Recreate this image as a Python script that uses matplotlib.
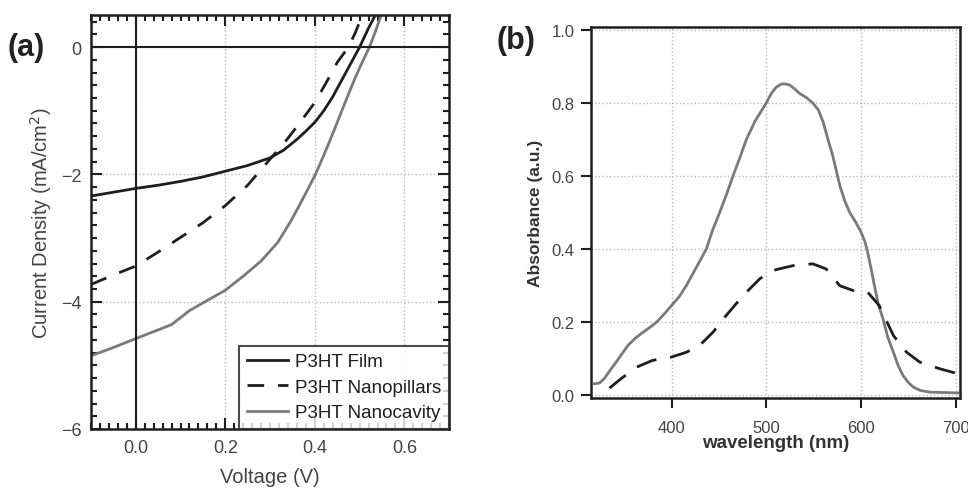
import numpy as np
import matplotlib.pyplot as plt
from matplotlib.ticker import MultipleLocator

# Panel (a): J-V curves
film_v = [-0.1, -0.05, 0.0, 0.05, 0.1, 0.15, 0.2, 0.25, 0.3, 0.33, 0.36, 0.38,
          0.4, 0.42, 0.44, 0.46, 0.48, 0.5, 0.52, 0.535]
film_j = [-2.34, -2.28, -2.22, -2.17, -2.11, -2.04, -1.95, -1.86, -1.74, -1.62,
          -1.45, -1.32, -1.18, -1.0, -0.78, -0.52, -0.26, 0.0, 0.3, 0.5]

pillar_v = [-0.1, -0.05, 0.0, 0.05, 0.1, 0.15, 0.2, 0.25, 0.3, 0.33, 0.36, 0.4,
            0.43, 0.45, 0.475, 0.49, 0.506]
pillar_j = [-3.73, -3.58, -3.44, -3.22, -2.99, -2.76, -2.49, -2.17, -1.76, -1.52,
            -1.25, -0.87, -0.5, -0.24, 0.0, 0.22, 0.5]

cavity_v = [-0.1, -0.05, 0.0, 0.04, 0.08, 0.12, 0.16, 0.2, 0.24, 0.28, 0.317,
            0.345, 0.369, 0.4, 0.42, 0.444, 0.467, 0.489, 0.505, 0.522, 0.535, 0.548]
cavity_j = [-4.85, -4.72, -4.58, -4.47, -4.36, -4.14, -3.98, -3.82, -3.6, -3.36,
            -3.07, -2.75, -2.44, -2.02, -1.7, -1.29, -0.88, -0.5, -0.25, 0.0, 0.24, 0.5]

# Panel (b): absorbance spectra
solid_wl = [318.7, 324, 329, 335, 341.5, 348, 354, 362, 370, 377, 384, 392, 400,
            408, 415.5, 425, 436.6, 443, 450.7, 458, 464.8, 472, 478.9, 488, 500,
            505, 510, 515.8, 520, 524.6, 530, 535, 542, 549, 555, 560, 565, 570,
            577.5, 583, 588, 594, 600, 604, 607, 611, 614, 618, 623, 628, 634,
            639, 644, 650, 655, 662, 672.5, 702]
solid_abs = [0.032, 0.034, 0.046, 0.068, 0.091, 0.115, 0.137, 0.157, 0.173, 0.186,
             0.200, 0.222, 0.246, 0.27, 0.30, 0.345, 0.40, 0.45, 0.50, 0.55, 0.60,
             0.65, 0.70, 0.75, 0.80, 0.825, 0.842, 0.852, 0.852, 0.849, 0.838,
             0.826, 0.815, 0.80, 0.78, 0.747, 0.70, 0.656, 0.574, 0.53, 0.50, 0.475,
             0.446, 0.42, 0.39, 0.34, 0.30, 0.25, 0.21, 0.16, 0.118, 0.082, 0.055,
             0.035, 0.023, 0.014, 0.009, 0.007]

dash_wl = [334.5, 346.8, 362.7, 380, 400, 415.5, 429.6, 443.7, 457.7, 475.4,
           493, 507, 528, 549, 563, 577.5, 591.5, 607, 619, 634, 648, 662, 683, 702.5]
dash_abs = [0.02, 0.046, 0.077, 0.096, 0.105, 0.118, 0.137, 0.173, 0.219, 0.273,
            0.319, 0.342, 0.355, 0.36, 0.346, 0.30, 0.287, 0.282, 0.246, 0.164,
            0.118, 0.091, 0.073, 0.059]

plt.rcParams['font.family'] = ['Liberation Sans', 'DejaVu Sans']

BLACK = '#1e1e1e'
GRAY = '#7a7a7a'
TXT = '#444444'

fig = plt.figure(figsize=(9.68, 4.89), dpi=100)

# ---------- (a) ----------
ax1 = fig.add_axes([0.094, 0.1207, 0.370, 0.846])
ax1.plot(film_v, film_j, color=BLACK, lw=2.0, label='P3HT Film')
ax1.plot(pillar_v, pillar_j, color=BLACK, lw=2.0, dashes=(6, 5), label='P3HT Nanopillars')
ax1.plot(cavity_v, cavity_j, color=GRAY, lw=2.0, label='P3HT Nanocavity')
ax1.axhline(0, color=BLACK, lw=1.5, zorder=2)
ax1.axvline(0, color=BLACK, lw=1.5, zorder=2)
ax1.set_xlim(-0.1, 0.7)
ax1.set_ylim(-6, 0.5)
ax1.set_xticks([0.0, 0.2, 0.4, 0.6])
ax1.set_xticklabels(['0.0', '0.2', '0.4', '0.6'])
ax1.set_yticks([0, -2, -4, -6])
ax1.set_yticklabels(['0', '\u22122', '\u22124', '\u22126'])
ax1.xaxis.set_minor_locator(MultipleLocator(0.02))
ax1.yaxis.set_minor_locator(MultipleLocator(0.2))
ax1.tick_params(which='both', direction='in', top=True, right=True,
                colors=BLACK, labelcolor=TXT, labelsize=13, width=1.5)
ax1.tick_params(which='major', length=8, pad=7)
ax1.tick_params(which='minor', length=4)
ax1.grid(True, which='major', color='#bbbbbb', ls=':', lw=1)
for s in ax1.spines.values():
    s.set_linewidth(1.8)
    s.set_color(BLACK)
ax1.set_xlabel('Voltage (V)', fontsize=14.5, color=TXT, labelpad=8)
ax1.set_ylabel('Current Density (mA/cm$^2$)', fontsize=14.5, color=TXT, labelpad=5)
leg = ax1.legend(loc='lower right', fontsize=13.5, frameon=True, fancybox=False,
                 borderaxespad=0, handlelength=2.2, borderpad=0.4, labelspacing=0.45,
                 handletextpad=0.4)
leg.get_frame().set_edgecolor(BLACK)
leg.get_frame().set_linewidth(1.5)
for t in leg.get_texts():
    t.set_color(BLACK)
fig.text(0.008, 0.885, '(a)', fontsize=22, fontweight='bold', color='#222222')

# ---------- (b) ----------
ax2 = fig.add_axes([0.6105, 0.184, 0.381, 0.759])
ax2.plot(solid_wl, solid_abs, color=GRAY, lw=2.0)
ax2.plot(dash_wl, dash_abs, color=BLACK, lw=2.0, dashes=(7.5, 5))
ax2.set_xlim(315, 704)
ax2.set_ylim(-0.007, 1.008)
ax2.set_xticks([400, 500, 600, 700])
ax2.set_yticks([0.0, 0.2, 0.4, 0.6, 0.8, 1.0])
ax2.set_yticklabels(['0.0', '0.2', '0.4', '0.6', '0.8', '1.0'])
ax2.tick_params(direction='out', length=7, width=1.5, colors=BLACK,
                labelcolor=TXT, labelsize=12, pad=5)
ax2.tick_params(axis='x', pad=9)
ax2.grid(True, color='#bbbbbb', ls=':', lw=1)
for s in ax2.spines.values():
    s.set_linewidth(1.8)
    s.set_color(BLACK)
ax2.set_xlabel('wavelength (nm)', fontsize=13.5, fontweight='bold', color='#333333', labelpad=-1)
ax2.set_ylabel('Absorbance (a.u.)', fontsize=12.5, fontweight='bold', color='#333333', labelpad=6)
fig.text(0.513, 0.9, '(b)', fontsize=22, fontweight='bold', color='#222222')

fig.savefig('out.png', dpi=100)
